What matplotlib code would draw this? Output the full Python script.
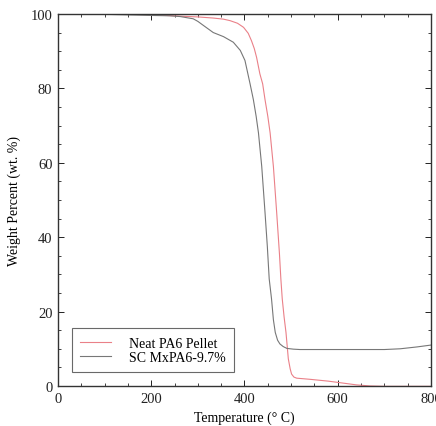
import matplotlib
matplotlib.use("Agg")
import matplotlib.pyplot as plt
from matplotlib.ticker import MultipleLocator

plt.rcParams['font.family'] = ['Liberation Serif', 'DejaVu Serif']

neat_T = [0, 100, 200, 262, 300, 333, 355, 369, 385, 398, 408, 415, 421, 426, 433, 439, 444, 450, 455, 462, 469, 475, 478, 481, 485, 489, 494, 498, 501, 506, 512, 540, 580, 610, 640, 670, 700, 800]
neat_W = [100, 100, 99.8, 99.4, 99.2, 98.9, 98.6, 98.2, 97.5, 96.4, 94.8, 92.8, 90.7, 88.3, 83.9, 81.2, 77, 72.5, 68, 59, 46.7, 35.5, 28.8, 23.4, 18.5, 14.4, 7.3, 4.6, 3.2, 2.4, 2.1, 1.8, 1.3, 0.8, 0.3, 0.0, -0.1, -0.1]

sc_T = [0, 100, 200, 240, 262, 290, 300, 312, 333, 355, 376, 391, 401, 412, 419, 425, 430, 437, 444, 449, 453, 458, 462, 466, 471, 476, 483, 491, 505, 519, 560, 648, 700, 734, 770, 800]
sc_W = [100, 99.9, 99.6, 99.5, 99.3, 98.7, 98.0, 96.9, 95.0, 93.9, 92.4, 90.2, 87.5, 81.2, 77, 72.5, 68, 59, 46.7, 37.5, 28.8, 23.4, 17.8, 14.4, 12.3, 11.3, 10.6, 10.1, 9.9, 9.8, 9.8, 9.8, 9.8, 10.0, 10.5, 11.0]

x_ticks = [0, 200, 400, 600, 800]
y_ticks = [0, 20, 40, 60, 80, 100]

fig = plt.figure(figsize=(4.36, 4.27), dpi=100)
ax = fig.add_axes([0.133, 0.0937, 0.8555, 0.8713])

ax.plot(neat_T, neat_W, color='#ea8088', lw=0.8, label='Neat PA6 Pellet')
ax.plot(sc_T, sc_W, color='#777777', lw=0.8, label='SC MxPA6-9.7%')

ax.set_xlim(0, 800)
ax.set_ylim(0, 100)
ax.set_xticks(x_ticks)
ax.set_yticks(y_ticks)
ax.xaxis.set_minor_locator(MultipleLocator(50))
ax.yaxis.set_minor_locator(MultipleLocator(5))
ax.tick_params(which='both', direction='in', top=True, right=True, labelsize=10.5, colors='#222222')
ax.tick_params(which='major', length=4, width=0.7, pad=4)
ax.tick_params(which='minor', length=2.5, width=0.6)
for s in ax.spines.values():
    s.set_linewidth(1.0)
    s.set_color('#333333')

ax.set_xlabel('Temperature (° C)', fontsize=10, labelpad=4)
ax.set_ylabel('Weight Percent (wt. %)', fontsize=10, labelpad=7)

leg = ax.legend(loc='lower left', bbox_to_anchor=(0.038, 0.038), borderaxespad=0, fontsize=10,
                frameon=True, fancybox=False, edgecolor='#444444',
                handlelength=2.2, handletextpad=1.3, borderpad=0.6, labelspacing=0.05)
leg.get_frame().set_linewidth(0.8)

fig.savefig('out.png', dpi=100)
